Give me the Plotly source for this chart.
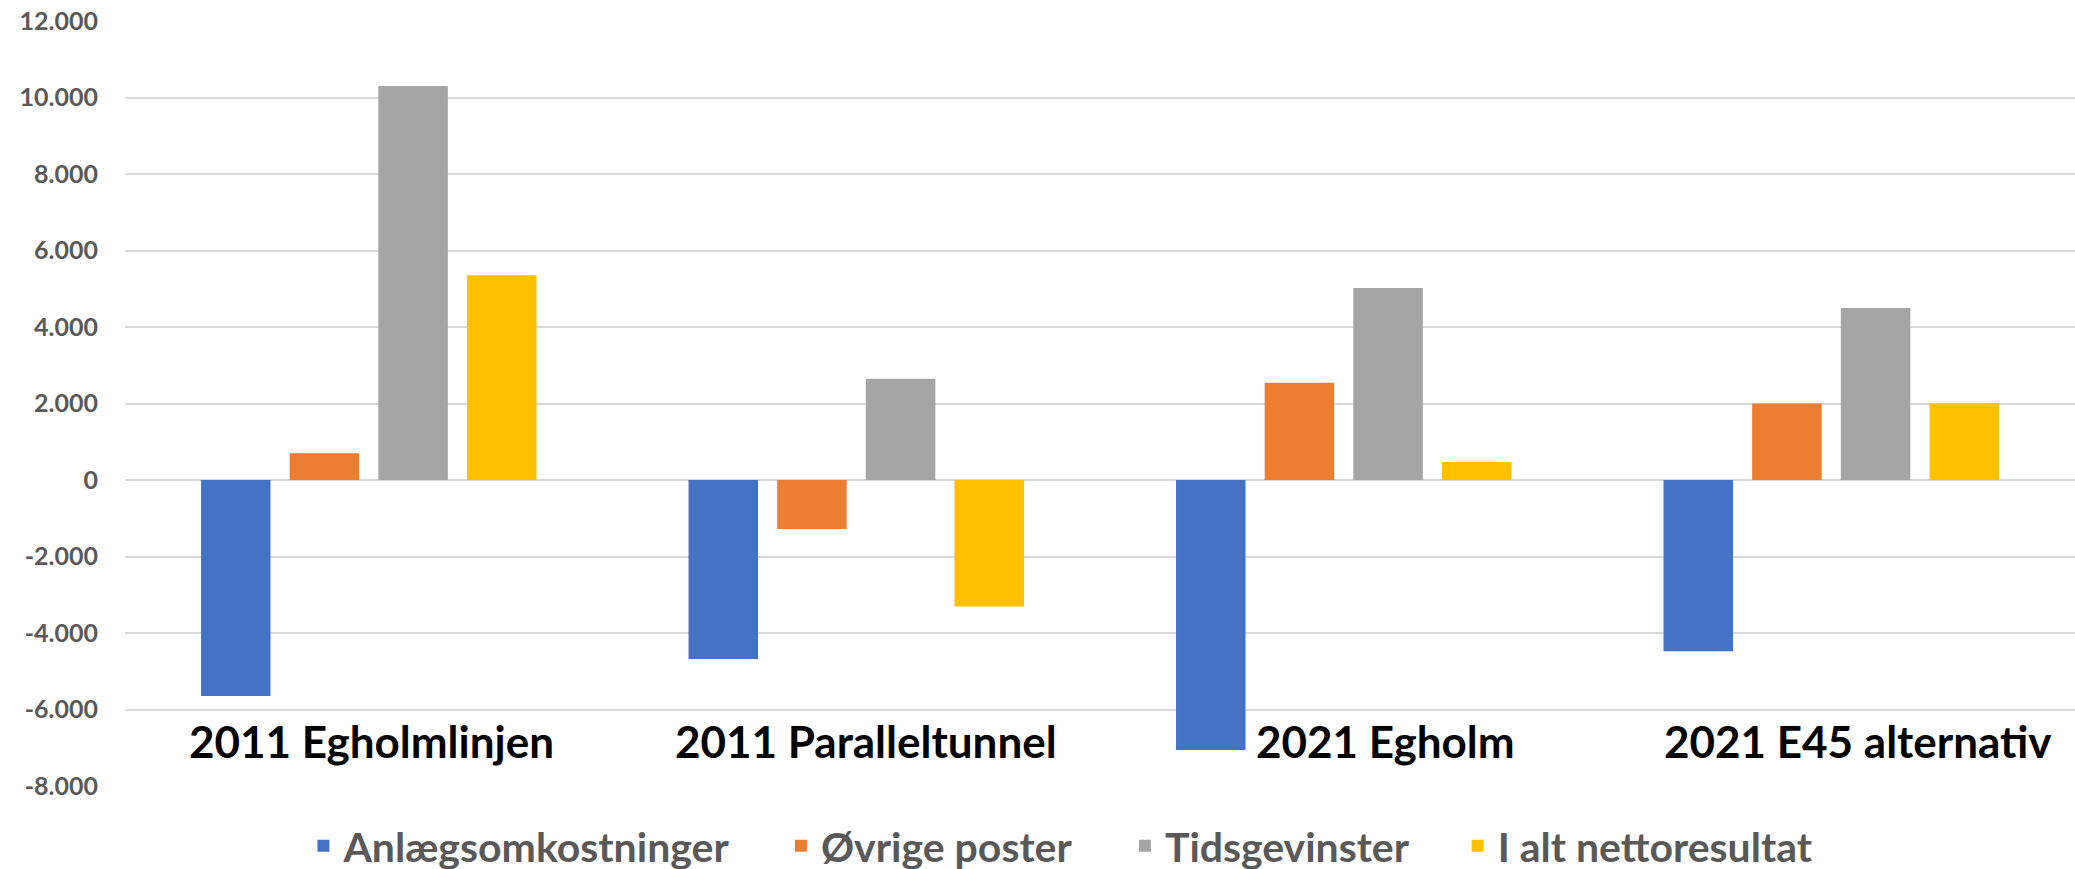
import plotly.graph_objects as go

categories = ["2011 Egholmlinjen", "2011 Paralleltunnel", "2021 Egholm", "2021 E45 alternativ"]
series_names = ["Anlægsomkostninger", "Øvrige poster", "Tidsgevinster", "I alt nettoresultat"]
anlaeg = [-5650, -4680, -7060, -4480]
oevrige = [700, -1280, 2540, 2000]
tidsgevinster = [10300, 2650, 5020, 4500]
nettoresultat = [5350, -3310, 470, 2000]
tick_values = [-8000, -6000, -4000, -2000, 0, 2000, 4000, 6000, 8000, 10000, 12000]
tick_labels = ["-8.000", "-6.000", "-4.000", "-2.000", "0", "2.000", "4.000", "6.000", "8.000", "10.000", "12.000"]

colors = ["#4472C4", "#ED7D31", "#A5A5A5", "#FFC000"]
series = [anlaeg, oevrige, tidsgevinster, nettoresultat]
legend_ids = ["legend", "legend2", "legend3", "legend4"]
legend_x = [0.0915, 0.3364, 0.5128, 0.6834]
label_shift = [3, 10, 42, 27]

FONT = "Lato, 'Open Sans', sans-serif"

fig = go.Figure()
for name, vals, col, lid in zip(series_names, series, colors, legend_ids):
    fig.add_trace(go.Bar(
        x=categories, y=vals, name=name,
        marker=dict(color=col, line=dict(width=0)),
        legend=lid,
    ))

legend_common = dict(
    orientation="h", y=-0.0785, yanchor="middle", xanchor="left",
    bgcolor="rgba(0,0,0,0)", borderwidth=0,
    font=dict(family=FONT, size=41, color="#595959", weight=700),
)
layout_legends = {}
for lid, lx in zip(legend_ids, legend_x):
    layout_legends[lid] = dict(legend_common, x=lx)

annotations = []
for cat, sh in zip(categories, label_shift):
    annotations.append(dict(
        x=cat, xref="x", y=0.0582, yref="paper", yanchor="middle",
        text=cat, showarrow=False, xshift=sh,
        font=dict(family=FONT, size=44, color="#000000", weight=700),
    ))

fig.update_layout(
    width=2075, height=869,
    margin=dict(l=125, r=0, t=21, b=83, autoexpand=False),
    paper_bgcolor="white", plot_bgcolor="white",
    barmode="group", bargap=0.2726, bargroupgap=0.216,
    showlegend=True,
    annotations=annotations,
    **layout_legends,
)
fig.update_xaxes(showticklabels=False, showgrid=False, showline=False, zeroline=False, ticks="")
fig.update_yaxes(
    range=[-8000, 12000], tickvals=tick_values, ticktext=tick_labels,
    showgrid=True, gridcolor="#d9d9d9", gridwidth=1.5,
    zeroline=True, zerolinecolor="#d9d9d9", zerolinewidth=1.5,
    showline=False, ticks="", ticklabelstandoff=26,
    tickfont=dict(family=FONT, size=25, color="#595959", weight=700),
)

fig.write_html(
    "out.html",
    config={"displayModeBar": False},
    post_script="document.body.style.margin='0';",
)
